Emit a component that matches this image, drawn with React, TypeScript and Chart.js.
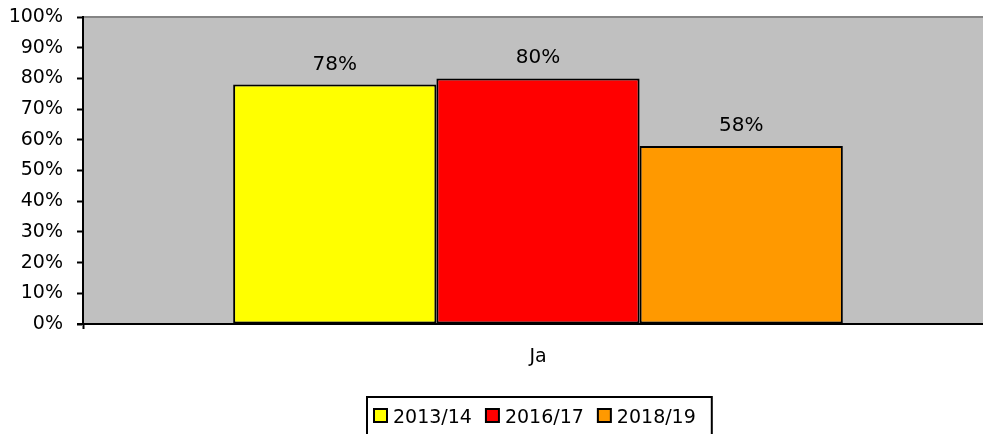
import React, { useEffect, useRef } from "react";
import { Chart, registerables } from "chart.js";

Chart.register(...registerables);

const categories = ["Ja"];
const seriesLabels = ["2013/14", "2016/17", "2018/19"];
const values2013 = [78];
const values2016 = [80];
const values2018 = [58];
const seriesColors = ["#FFFF00", "#FF0000", "#FF9900"];
const yTicks = [0, 10, 20, 30, 40, 50, 60, 70, 80, 90, 100];

const FONT = "DejaVu Sans";

const bgPlugin = {
  id: "plotBg",
  beforeDraw(chart: any) {
    const { ctx, chartArea } = chart;
    ctx.save();
    ctx.fillStyle = "#C0C0C0";
    ctx.fillRect(chartArea.left, chartArea.top, chartArea.right - chartArea.left, chartArea.bottom - chartArea.top);
    ctx.strokeStyle = "#858585";
    ctx.lineWidth = 2;
    ctx.beginPath();
    ctx.moveTo(chartArea.left, chartArea.top);
    ctx.lineTo(chartArea.right, chartArea.top);
    ctx.stroke();
    ctx.restore();
  },
};

const labelPlugin = {
  id: "valueLabels",
  afterDatasetsDraw(chart: any) {
    const { ctx } = chart;
    ctx.save();
    ctx.font = `20px "${FONT}"`;
    ctx.fillStyle = "#000";
    ctx.textAlign = "center";
    ctx.textBaseline = "alphabetic";
    chart.data.datasets.forEach((ds: any, i: number) => {
      const meta = chart.getDatasetMeta(i);
      meta.data.forEach((el: any, j: number) => {
        ctx.fillText(ds.data[j] + "%", el.x, el.y - 15);
      });
    });
    ctx.restore();
  },
};

const legendPlugin = {
  id: "boxLegend",
  afterDraw(chart: any) {
    const { ctx } = chart;
    ctx.save();
    ctx.font = `19px "${FONT}"`;
    const box = 13;
    const gap = 6;
    const spacing = 14;
    const items = chart.data.datasets.map((ds: any) => ({
      label: ds.label,
      color: ds.backgroundColor,
      w: box + gap + ctx.measureText(ds.label).width,
    }));
    const inner = items.reduce((s: number, it: any) => s + it.w, 0) + spacing * (items.length - 1);
    const padL = 7;
    const padR = 16;
    const bw = inner + padL + padR;
    const cx = chart.scales.x.getPixelForValue(0) + 1;
    const left = Math.round(cx - bw / 2);
    const top = 397;
    ctx.strokeStyle = "#000";
    ctx.lineWidth = 2;
    ctx.strokeRect(left, top, bw, 60);
    let x = left + padL;
    items.forEach((it: any) => {
      ctx.fillStyle = it.color;
      ctx.fillRect(x, 409, box, box);
      ctx.strokeStyle = "#000";
      ctx.lineWidth = 2;
      ctx.strokeRect(x, 409, box, box);
      ctx.fillStyle = "#000";
      ctx.textAlign = "left";
      ctx.textBaseline = "alphabetic";
      ctx.fillText(it.label, x + box + gap, 423);
      x += it.w + spacing;
    });
    ctx.restore();
  },
};

const axisExtPlugin = {
  id: "axisExt",
  afterDraw(chart: any) {
    const { ctx, chartArea } = chart;
    ctx.save();
    ctx.strokeStyle = "#000";
    ctx.lineWidth = 2;
    ctx.beginPath();
    ctx.moveTo(chartArea.left - 6, chartArea.bottom);
    ctx.lineTo(chartArea.left, chartArea.bottom);
    ctx.stroke();
    ctx.restore();
  },
};

export default function App() {
  const ref = useRef<HTMLCanvasElement>(null);
  useEffect(() => {
    if (!ref.current) return;
    const chart = new Chart(ref.current, {
      type: "bar",
      data: {
        labels: categories,
        datasets: [
          { label: seriesLabels[0], data: values2013, backgroundColor: seriesColors[0] },
          { label: seriesLabels[1], data: values2016, backgroundColor: seriesColors[1] },
          { label: seriesLabels[2], data: values2018, backgroundColor: seriesColors[2] },
        ].map((d) => ({
          ...d,
          borderColor: "#000",
          borderWidth: 2,
          borderSkipped: false,
          barPercentage: 1,
          categoryPercentage: 0.67,
        })),
      },
      options: {
        responsive: false,
        animation: false,
        layout: { padding: { top: 17, right: 7, left: 0, bottom: 0 } },
        plugins: { legend: { display: false }, tooltip: { enabled: false } },
        scales: {
          y: {
            min: 0,
            max: 100,
            afterBuildTicks: (scale: any) => {
              scale.ticks = yTicks.map((v) => ({ value: v }));
            },
            afterFit: (scale: any) => {
              scale.width = 83;
              scale.paddingTop = 0;
              scale.paddingBottom = 0;
            },
            ticks: {
              callback: (v: any) => v + "%",
              color: "#000",
              font: { family: FONT, size: 19 },
              padding: 14,
            },
            grid: { drawOnChartArea: false, tickLength: 6, tickColor: "#000", tickWidth: 2 },
            border: { color: "#000", width: 2 },
          },
          x: {
            afterFit: (scale: any) => {
              scale.height = 110;
            },
            ticks: {
              color: "#000",
              font: { family: FONT, size: 19 },
              padding: 17,
            },
            grid: { drawOnChartArea: false, tickLength: 5, tickColor: "#000", tickWidth: 2, offset: true },
            border: { color: "#000", width: 2 },
          },
        },
      },
      plugins: [bgPlugin, labelPlugin, legendPlugin, axisExtPlugin],
    } as any);
    return () => chart.destroy();
  }, []);
  return (
    <div style={{ position: "fixed", left: 0, top: 0, width: 983, height: 434, overflow: "hidden", background: "#fff" }}>
      <canvas ref={ref} width={1000} height={434} style={{ width: 1000, height: 434, display: "block" }} />
    </div>
  );
}
